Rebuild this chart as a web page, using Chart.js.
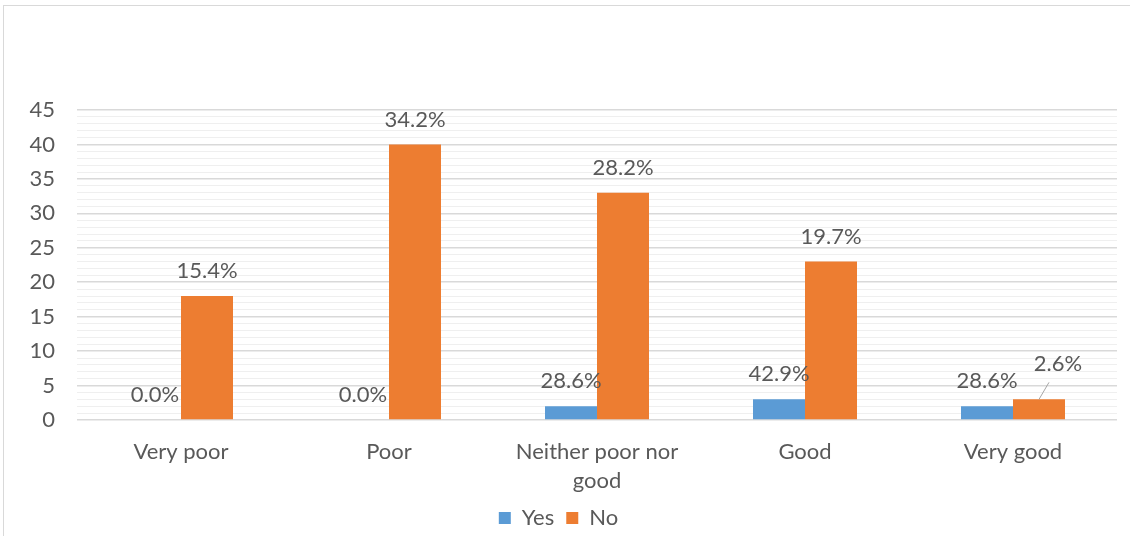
<!DOCTYPE html>
<html>
<head>
<meta charset="utf-8">
<script src="https://cdn.jsdelivr.net/npm/chart.js@4/dist/chart.umd.min.js"></script>
<style>
  html, body { margin: 0; padding: 0; background: #fff; overflow: hidden; }
  #frame { position: absolute; left: 3px; top: 5px; width: 1140px; height: 540px; border: 1px solid #d9d9d9; }
  #chartContainer { position: absolute; left: 0; top: 0; width: 1130px; height: 536px; }
</style>
</head>
<body>
<div id="frame"></div>
<div id="chartContainer"><canvas id="ratingChart"></canvas></div>
<script>
// ===== Data =====
const categories = ['Very poor', 'Poor', ['Neither poor nor', 'good'], 'Good', 'Very good'];
const yesValues = [0, 0, 2, 3, 2];
const noValues = [18, 40, 33, 23, 3];
const yesLabels = ['0.0%', '0.0%', '28.6%', '42.9%', '28.6%'];
const noLabels = ['15.4%', '34.2%', '28.2%', '19.7%', '2.6%'];

const textColor = '#595959';
const fontFamily = 'Lato, "Open Sans", sans-serif';
const fontSize = 22;

// ===== Bar value labels (Excel-style, above each bar) =====
const barLabels = {
    id: 'barLabels',
    afterDatasetsDraw(chart) {
        const ctx = chart.ctx;
        ctx.save();
        ctx.font = fontSize + 'px ' + fontFamily;
        ctx.fillStyle = textColor;
        ctx.textAlign = 'center';
        ctx.textBaseline = 'middle';
        chart.data.datasets.forEach((ds, di) => {
            const meta = chart.getDatasetMeta(di);
            meta.data.forEach((bar, i) => {
                let x = bar.x, y = bar.y - 25;
                // the "No / Very good" label was dragged aside with a leader line
                if (di === 1 && i === 4) {
                    x += 19; y -= 10;
                    ctx.strokeStyle = '#a6a6a6';
                    ctx.lineWidth = 1;
                    ctx.beginPath();
                    ctx.moveTo(bar.x + 10, bar.y - 17);
                    ctx.lineTo(bar.x, bar.y);
                    ctx.stroke();
                }
                ctx.fillText(ds.valueLabels[i], x, y);
            });
        });
        ctx.restore();
    }
};

// ===== Chart =====
const ctx = document.getElementById('ratingChart').getContext('2d');
const chart = new Chart(ctx, {
    type: 'bar',
    data: {
        labels: categories,
        datasets: [
            { label: 'Yes', data: yesValues, valueLabels: yesLabels, backgroundColor: '#5b9bd5' },
            { label: 'No', data: noValues, valueLabels: noLabels, backgroundColor: '#ed7d31' }
        ]
    },
    options: {
        responsive: true,
        maintainAspectRatio: false,
        animation: false,
        layout: { padding: { left: 0, right: 13, top: 110, bottom: -3 } },
        datasets: { bar: { categoryPercentage: 0.5, barPercentage: 1.0 } },
        plugins: {
            tooltip: { enabled: false },
            legend: {
                position: 'bottom',
                labels: {
                    boxWidth: 12, boxHeight: 12, padding: 12,
                    color: textColor, font: { family: fontFamily, size: fontSize }
                }
            }
        },
        scales: {
            x: {
                afterFit(scale) { scale.height = 75; },
                grid: { display: false },
                border: { display: false },
                ticks: {
                    color: textColor, font: { family: fontFamily, size: fontSize, lineHeight: 1.32 },
                    padding: 9, maxRotation: 0
                }
            },
            y: {
                min: 0, max: 45,
                afterFit(scale) { scale.width = 77; },
                border: { display: false },
                grid: {
                    drawTicks: false,
                    color: c => (c.tick && c.tick.value % 5 === 0) ? '#d9d9d9' : '#efefef',
                    lineWidth: c => (c.tick && c.tick.value % 5 === 0) ? 1.5 : 1
                },
                ticks: {
                    stepSize: 1, autoSkip: false, padding: 22,
                    color: textColor, font: { family: fontFamily, size: fontSize },
                    callback: v => (v % 5 === 0 ? v : '')
                }
            }
        }
    },
    plugins: [barLabels]
});
</script>
</body>
</html>
